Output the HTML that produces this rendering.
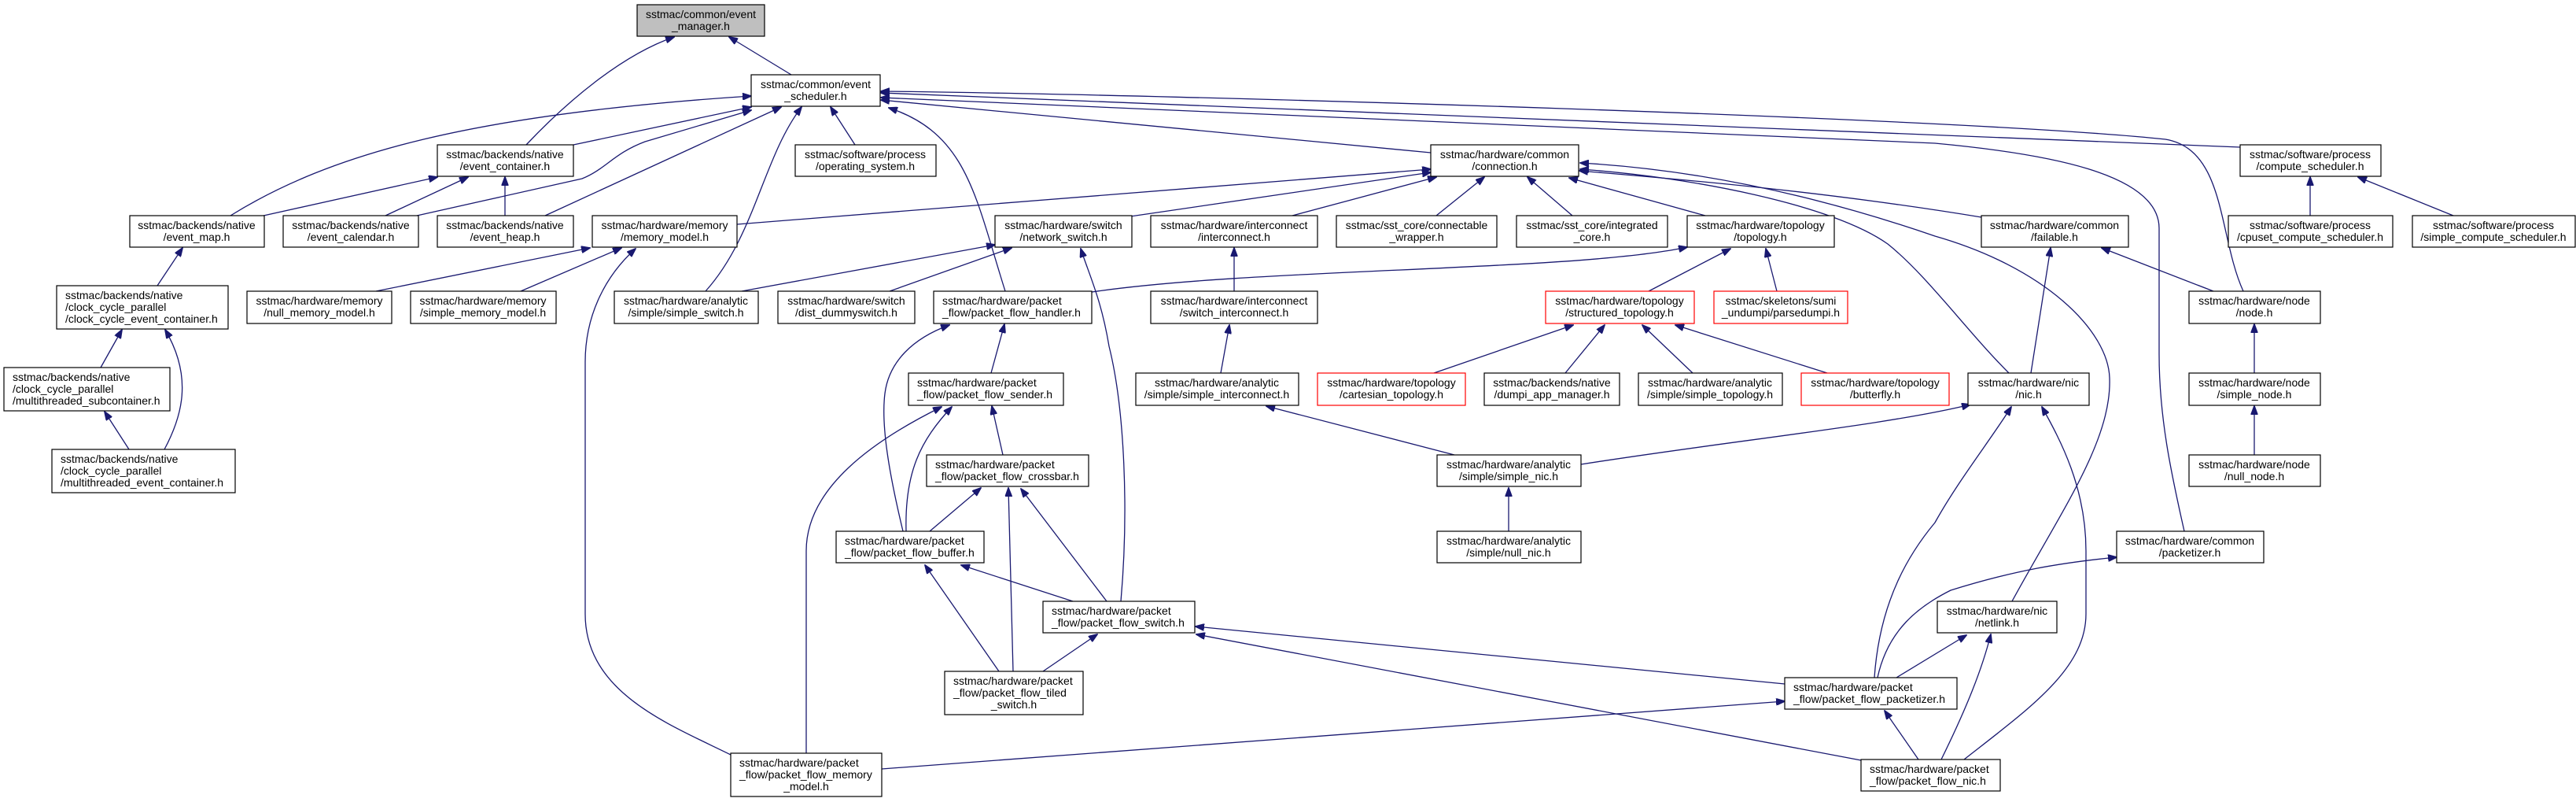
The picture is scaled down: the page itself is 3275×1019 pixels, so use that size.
<!DOCTYPE html>
<html><head><meta charset="utf-8"><style>
html,body{margin:0;padding:0;background:#fff;}
svg{display:block;}
text{font-family:"Liberation Sans",sans-serif;font-size:14px;fill:#000;}
.b{fill:#fff;stroke:#000;stroke-width:1.2;}
.r{fill:#fff;stroke:#ff0000;stroke-width:1.2;}
.g{fill:#bfbfbf;stroke:#000;stroke-width:1.2;}
.e{fill:none;stroke:#191970;stroke-width:1.3;marker-end:url(#a);}
</style></head><body>
<svg width="3275" height="1019" viewBox="0 0 3275 1019" xmlns="http://www.w3.org/2000/svg">
<defs><marker id="a" markerUnits="userSpaceOnUse" markerWidth="12" markerHeight="9" refX="11" refY="4.5" orient="auto"><path d="M0,0 L12,4.5 L0,9 z" fill="#191970" stroke="#191970"/></marker></defs>
<g>
<path class="e" d="M1006,95 L927,47"/>
<path class="e" d="M669,184 C720,130 790,70 857,47"/>
<path class="e" d="M729,184 L955,136"/>
<path class="e" d="M293,274 C420,195 600,145 955,122"/>
<path class="e" d="M335,274 L556,225"/>
<path class="e" d="M530,274 L740,227 C770,215 780,195 820,180 L955,140"/>
<path class="e" d="M490,274 L595,225"/>
<path class="e" d="M642,274 L642,225"/>
<path class="e" d="M693,274 L993,136"/>
<path class="e" d="M937,285 L1819,215"/>
<path class="e" d="M897,370 C960,300 970,200 1019,136"/>
<path class="e" d="M943,370 L1265,311"/>
<path class="e" d="M1131,370 L1286,315"/>
<path class="e" d="M1278,370 C1240,250 1230,170 1130,137"/>
<path class="e" d="M1388,371 C1600,340 2000,345 2145,314"/>
<path class="e" d="M1437,275 L1819,219"/>
<path class="e" d="M1643,274 L1826,225"/>
<path class="e" d="M1826,274 L1887,225"/>
<path class="e" d="M1999,274 L1942,225"/>
<path class="e" d="M2168,274 L1995,226"/>
<path class="e" d="M2554,474 C2500,420 2450,350 2400,310 C2330,260 2150,225 2009,215"/>
<path class="e" d="M2848,187 L1120,118"/>
<path class="e" d="M2852,370 C2820,300 2830,190 2753,177 C2500,150 1500,120 1120,116"/>
<path class="e" d="M2777,675 C2760,600 2745,530 2745,450 L2745,290 C2745,220 2600,195 2460,182 L1120,124"/>
<path class="e" d="M1819,194 L1120,127"/>
<path class="e" d="M1087,184 L1056,136"/>
<path class="e" d="M2582,474 L2607,315"/>
<path class="e" d="M2814,370 L2672,315"/>
<path class="e" d="M2937,274 L2937,225"/>
<path class="e" d="M3119,274 L2998,225"/>
<path class="e" d="M2866,474 L2866,412"/>
<path class="e" d="M2866,578 L2866,516"/>
<path class="e" d="M2519,276 C2300,240 2100,225 2008,217"/>
<path class="e" d="M2558,764 C2620,650 2685,560 2682,480 C2680,420 2600,340 2460,300 C2300,245 2150,215 2009,207"/>
<path class="e" d="M200,363 L232,315"/>
<path class="e" d="M128,467 L155,419"/>
<path class="e" d="M209,571 C231,530 246,480 210,419"/>
<path class="e" d="M164,571 L133,523"/>
<path class="e" d="M478,370 L750,315"/>
<path class="e" d="M662,370 L790,315"/>
<path class="e" d="M929,959 C850,920 744,880 744,780 L744,460 C744,400 770,350 808,316"/>
<path class="e" d="M1025,957 L1025,700 C1025,620 1110,560 1197,517"/>
<path class="e" d="M1121,977 L2269,891"/>
<path class="e" d="M1148,675 C1130,600 1120,540 1125,500 C1130,460 1160,430 1207,413"/>
<path class="e" d="M1152,675 C1150,600 1170,560 1210,517"/>
<path class="e" d="M1260,474 L1277,412"/>
<path class="e" d="M1275,578 L1261,516"/>
<path class="e" d="M1182,675 L1247,620"/>
<path class="e" d="M1407,764 L1298,621"/>
<path class="e" d="M1288,853 L1282,620"/>
<path class="e" d="M1364,764 L1222,718"/>
<path class="e" d="M1270,853 L1176,718"/>
<path class="e" d="M1326,853 L1395,806"/>
<path class="e" d="M1425,764 C1435,650 1430,520 1410,440 C1400,380 1385,350 1374,316"/>
<path class="e" d="M2269,869 L1520,796"/>
<path class="e" d="M2366,966 L1521,806"/>
<path class="e" d="M1552,474 L1563,413"/>
<path class="e" d="M1569,370 L1569,315"/>
<path class="e" d="M1849,578 L1610,516"/>
<path class="e" d="M2010,590 C2200,560 2400,540 2505,514"/>
<path class="e" d="M1918,675 L1918,620"/>
<path class="e" d="M2096,370 L2200,316"/>
<path class="e" d="M2259,370 L2245,316"/>
<path class="e" d="M1823,474 L2000,413"/>
<path class="e" d="M1990,474 L2040,413"/>
<path class="e" d="M2152,474 L2088,413"/>
<path class="e" d="M2323,474 L2130,413"/>
<path class="e" d="M2383,861 C2390,760 2430,700 2460,664 C2490,610 2530,560 2557,517"/>
<path class="e" d="M2411,861 L2500,807"/>
<path class="e" d="M2387,861 C2400,800 2440,770 2480,750 C2560,725 2620,715 2691,708"/>
<path class="e" d="M2468,965 C2500,900 2520,850 2531,806"/>
<path class="e" d="M2497,965 C2580,900 2652,850 2652,780 L2652,700 C2652,620 2620,560 2596,517"/>
<path class="e" d="M2439,965 L2396,903"/>
</g>
<g>
<rect class="g" x="810" y="6" width="162" height="40"/><text x="891" y="23" text-anchor="middle">sstmac/common/event</text><text x="891" y="38" text-anchor="middle">_manager.h</text>
<rect class="b" x="955" y="95" width="164" height="40"/><text x="1037" y="112" text-anchor="middle">sstmac/common/event</text><text x="1037" y="127" text-anchor="middle">_scheduler.h</text>
<rect class="b" x="556" y="184" width="173" height="40"/><text x="642" y="201" text-anchor="middle">sstmac/backends/native</text><text x="642" y="216" text-anchor="middle">/event_container.h</text>
<rect class="b" x="1011" y="184" width="179" height="40"/><text x="1100" y="201" text-anchor="middle">sstmac/software/process</text><text x="1100" y="216" text-anchor="middle">/operating_system.h</text>
<rect class="b" x="1819" y="184" width="188" height="40"/><text x="1913" y="201" text-anchor="middle">sstmac/hardware/common</text><text x="1913" y="216" text-anchor="middle">/connection.h</text>
<rect class="b" x="2848" y="184" width="179" height="40"/><text x="2937" y="201" text-anchor="middle">sstmac/software/process</text><text x="2937" y="216" text-anchor="middle">/compute_scheduler.h</text>

<rect class="b" x="165" y="274" width="171" height="40"/><text x="250" y="291" text-anchor="middle">sstmac/backends/native</text><text x="250" y="306" text-anchor="middle">/event_map.h</text>
<rect class="b" x="360" y="274" width="172" height="40"/><text x="446" y="291" text-anchor="middle">sstmac/backends/native</text><text x="446" y="306" text-anchor="middle">/event_calendar.h</text>
<rect class="b" x="556" y="274" width="173" height="40"/><text x="642" y="291" text-anchor="middle">sstmac/backends/native</text><text x="642" y="306" text-anchor="middle">/event_heap.h</text>
<rect class="b" x="753" y="274" width="184" height="40"/><text x="845" y="291" text-anchor="middle">sstmac/hardware/memory</text><text x="845" y="306" text-anchor="middle">/memory_model.h</text>
<rect class="b" x="1265" y="274" width="174" height="40"/><text x="1352" y="291" text-anchor="middle">sstmac/hardware/switch</text><text x="1352" y="306" text-anchor="middle">/network_switch.h</text>
<rect class="b" x="1463" y="274" width="212" height="40"/><text x="1569" y="291" text-anchor="middle">sstmac/hardware/interconnect</text><text x="1569" y="306" text-anchor="middle">/interconnect.h</text>
<rect class="b" x="1699" y="274" width="204" height="40"/><text x="1801" y="291" text-anchor="middle">sstmac/sst_core/connectable</text><text x="1801" y="306" text-anchor="middle">_wrapper.h</text>
<rect class="b" x="1928" y="274" width="192" height="40"/><text x="2024" y="291" text-anchor="middle">sstmac/sst_core/integrated</text><text x="2024" y="306" text-anchor="middle">_core.h</text>
<rect class="b" x="2145" y="274" width="187" height="40"/><text x="2238" y="291" text-anchor="middle">sstmac/hardware/topology</text><text x="2238" y="306" text-anchor="middle">/topology.h</text>
<rect class="b" x="2519" y="274" width="187" height="40"/><text x="2612" y="291" text-anchor="middle">sstmac/hardware/common</text><text x="2612" y="306" text-anchor="middle">/failable.h</text>
<rect class="b" x="2833" y="274" width="209" height="40"/><text x="2937" y="291" text-anchor="middle">sstmac/software/process</text><text x="2937" y="306" text-anchor="middle">/cpuset_compute_scheduler.h</text>
<rect class="b" x="3067" y="274" width="207" height="40"/><text x="3170" y="291" text-anchor="middle">sstmac/software/process</text><text x="3170" y="306" text-anchor="middle">/simple_compute_scheduler.h</text>

<rect class="b" x="72" y="363" width="218" height="55"/><text x="83" y="380">sstmac/backends/native</text><text x="83" y="395">/clock_cycle_parallel</text><text x="83" y="410">/clock_cycle_event_container.h</text>
<rect class="b" x="314" y="370" width="184" height="41"/><text x="406" y="387" text-anchor="middle">sstmac/hardware/memory</text><text x="406" y="402" text-anchor="middle">/null_memory_model.h</text>
<rect class="b" x="522" y="370" width="185" height="41"/><text x="614" y="387" text-anchor="middle">sstmac/hardware/memory</text><text x="614" y="402" text-anchor="middle">/simple_memory_model.h</text>
<rect class="b" x="781" y="370" width="183" height="41"/><text x="872" y="387" text-anchor="middle">sstmac/hardware/analytic</text><text x="872" y="402" text-anchor="middle">/simple/simple_switch.h</text>
<rect class="b" x="989" y="370" width="174" height="41"/><text x="1076" y="387" text-anchor="middle">sstmac/hardware/switch</text><text x="1076" y="402" text-anchor="middle">/dist_dummyswitch.h</text>
<rect class="b" x="1187" y="370" width="201" height="41"/><text x="1198" y="387">sstmac/hardware/packet</text><text x="1198" y="402">_flow/packet_flow_handler.h</text>
<rect class="b" x="1463" y="370" width="212" height="41"/><text x="1569" y="387" text-anchor="middle">sstmac/hardware/interconnect</text><text x="1569" y="402" text-anchor="middle">/switch_interconnect.h</text>
<rect class="r" x="1965" y="370" width="189" height="41"/><text x="2059" y="387" text-anchor="middle">sstmac/hardware/topology</text><text x="2059" y="402" text-anchor="middle">/structured_topology.h</text>
<rect class="r" x="2179" y="370" width="170" height="41"/><text x="2264" y="387" text-anchor="middle">sstmac/skeletons/sumi</text><text x="2264" y="402" text-anchor="middle">_undumpi/parsedumpi.h</text>
<rect class="b" x="2783" y="370" width="167" height="41"/><text x="2866" y="387" text-anchor="middle">sstmac/hardware/node</text><text x="2866" y="402" text-anchor="middle">/node.h</text>

<rect class="b" x="5" y="467" width="211" height="55"/><text x="16" y="484">sstmac/backends/native</text><text x="16" y="499">/clock_cycle_parallel</text><text x="16" y="514">/multithreaded_subcontainer.h</text>
<rect class="b" x="1155" y="474" width="197" height="41"/><text x="1166" y="491">sstmac/hardware/packet</text><text x="1166" y="506">_flow/packet_flow_sender.h</text>
<rect class="b" x="1444" y="474" width="207" height="41"/><text x="1547" y="491" text-anchor="middle">sstmac/hardware/analytic</text><text x="1547" y="506" text-anchor="middle">/simple/simple_interconnect.h</text>
<rect class="r" x="1675" y="474" width="188" height="41"/><text x="1769" y="491" text-anchor="middle">sstmac/hardware/topology</text><text x="1769" y="506" text-anchor="middle">/cartesian_topology.h</text>
<rect class="b" x="1887" y="474" width="172" height="41"/><text x="1973" y="491" text-anchor="middle">sstmac/backends/native</text><text x="1973" y="506" text-anchor="middle">/dumpi_app_manager.h</text>
<rect class="b" x="2083" y="474" width="183" height="41"/><text x="2174" y="491" text-anchor="middle">sstmac/hardware/analytic</text><text x="2174" y="506" text-anchor="middle">/simple/simple_topology.h</text>
<rect class="r" x="2290" y="474" width="188" height="41"/><text x="2384" y="491" text-anchor="middle">sstmac/hardware/topology</text><text x="2384" y="506" text-anchor="middle">/butterfly.h</text>
<rect class="b" x="2502" y="474" width="154" height="41"/><text x="2579" y="491" text-anchor="middle">sstmac/hardware/nic</text><text x="2579" y="506" text-anchor="middle">/nic.h</text>
<rect class="b" x="2783" y="474" width="167" height="41"/><text x="2866" y="491" text-anchor="middle">sstmac/hardware/node</text><text x="2866" y="506" text-anchor="middle">/simple_node.h</text>

<rect class="b" x="66" y="571" width="233" height="55"/><text x="77" y="588">sstmac/backends/native</text><text x="77" y="603">/clock_cycle_parallel</text><text x="77" y="618">/multithreaded_event_container.h</text>
<rect class="b" x="1178" y="578" width="206" height="40"/><text x="1189" y="595">sstmac/hardware/packet</text><text x="1189" y="610">_flow/packet_flow_crossbar.h</text>
<rect class="b" x="1827" y="578" width="183" height="40"/><text x="1918" y="595" text-anchor="middle">sstmac/hardware/analytic</text><text x="1918" y="610" text-anchor="middle">/simple/simple_nic.h</text>
<rect class="b" x="2783" y="578" width="167" height="40"/><text x="2866" y="595" text-anchor="middle">sstmac/hardware/node</text><text x="2866" y="610" text-anchor="middle">/null_node.h</text>

<rect class="b" x="1063" y="675" width="188" height="40"/><text x="1074" y="692">sstmac/hardware/packet</text><text x="1074" y="707">_flow/packet_flow_buffer.h</text>
<rect class="b" x="1827" y="675" width="183" height="40"/><text x="1918" y="692" text-anchor="middle">sstmac/hardware/analytic</text><text x="1918" y="707" text-anchor="middle">/simple/null_nic.h</text>
<rect class="b" x="2691" y="675" width="187" height="40"/><text x="2784" y="692" text-anchor="middle">sstmac/hardware/common</text><text x="2784" y="707" text-anchor="middle">/packetizer.h</text>

<rect class="b" x="1326" y="764" width="193" height="40"/><text x="1337" y="781">sstmac/hardware/packet</text><text x="1337" y="796">_flow/packet_flow_switch.h</text>
<rect class="b" x="2463" y="764" width="152" height="40"/><text x="2539" y="781" text-anchor="middle">sstmac/hardware/nic</text><text x="2539" y="796" text-anchor="middle">/netlink.h</text>

<rect class="b" x="1201" y="853" width="176" height="55"/><text x="1212" y="870">sstmac/hardware/packet</text><text x="1212" y="885">_flow/packet_flow_tiled</text><text x="1289" y="900" text-anchor="middle">_switch.h</text>
<rect class="b" x="2269" y="861" width="219" height="40"/><text x="2280" y="878">sstmac/hardware/packet</text><text x="2280" y="893">_flow/packet_flow_packetizer.h</text>

<rect class="b" x="929" y="957" width="192" height="55"/><text x="940" y="974">sstmac/hardware/packet</text><text x="940" y="989">_flow/packet_flow_memory</text><text x="1025" y="1004" text-anchor="middle">_model.h</text>
<rect class="b" x="2366" y="965" width="177" height="40"/><text x="2377" y="982">sstmac/hardware/packet</text><text x="2377" y="997">_flow/packet_flow_nic.h</text>
</g>
</svg>
</body></html>
